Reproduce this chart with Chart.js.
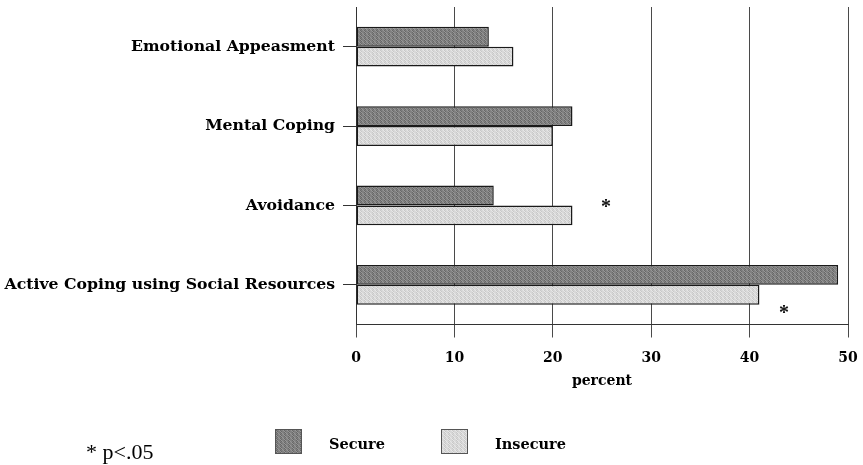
<!DOCTYPE html>
<html>
<head>
<meta charset="utf-8">
<script src="https://cdn.jsdelivr.net/npm/chart.js@4.4.1/dist/chart.umd.min.js"></script>
<style>
  html, body { margin: 0; padding: 0; background: #fff; }
  #wrap { width: 863px; height: 465px; position: relative; }
</style>
</head>
<body>
<div id="wrap"><canvas id="c" width="863" height="465"></canvas></div>
<script>
// Coping strategy shares by attachment group (percent)
const categories = ['Emotional Appeasment', 'Mental Coping', 'Avoidance', 'Active Coping using Social Resources'];
const secureValues = [13.5, 22, 14, 49];
const insecureValues = [16, 20, 22, 41];
const seriesNames = ['Secure', 'Insecure'];
const xTickValues = [0, 10, 20, 30, 40, 50];
const xTitle = 'percent';
const footnote = '* p<.05';
const significantCategories = ['Avoidance', 'Active Coping using Social Resources'];

const LABEL_FONT = 'DejaVu Serif';

// Small halftone-like tile used to fill the bars
function halftone(base, dark, light) {
  const t = document.createElement('canvas');
  t.width = 4; t.height = 4;
  const g = t.getContext('2d');
  g.fillStyle = base; g.fillRect(0, 0, 4, 4);
  g.fillStyle = dark;
  [[0,0],[2,0],[1,1],[3,1],[0,2],[2,2],[1,3],[3,3]].forEach(([x, y], i) => { if (i % 2 === 0) g.fillRect(x, y, 1, 1); });
  g.fillStyle = light;
  [[1,0],[3,2],[2,1],[0,3]].forEach(([x, y]) => g.fillRect(x, y, 1, 1));
  return g.createPattern(t, 'repeat');
}

const secureFill = halftone('#808080', '#686868', '#979797');
const insecureFill = halftone('#d8d8d8', '#c8c8c8', '#e7e7e7');

// Significance stars and the bottom legend row
const annotations = {
  id: 'annotations',
  afterDraw(chart) {
    const { ctx, scales: { x, y } } = chart;
    ctx.save();
    ctx.fillStyle = '#111';
    ctx.font = 'bold 20px "Liberation Serif"';
    ctx.textAlign = 'center';
    ctx.textBaseline = 'middle';
    // star beside the Avoidance pair
    const avoid = categories.indexOf(significantCategories[0]);
    ctx.fillText('*', x.getPixelForValue(25.4), y.getPixelForValue(avoid) + 2);
    // star under the Active Coping pair
    const active = categories.indexOf(significantCategories[1]);
    ctx.fillText('*', x.getPixelForValue(43.5), y.getPixelForValue(active) + 29);

    // footnote
    ctx.textAlign = 'left';
    ctx.textBaseline = 'alphabetic';
    ctx.font = '22px "Liberation Serif"';
    ctx.fillStyle = '#000';
    ctx.fillText(footnote, 86, 459);

    // legend
    const items = chart.data.datasets.map((d, i) => ({ fill: d.backgroundColor, label: seriesNames[i] }));
    const boxX = [275, 441];
    items.forEach((it, i) => {
      ctx.fillStyle = it.fill;
      ctx.fillRect(boxX[i], 429, 27, 25);
      ctx.strokeStyle = '#555';
      ctx.lineWidth = 1;
      ctx.strokeRect(boxX[i] + 0.5, 429.5, 26, 24);
      ctx.fillStyle = '#000';
      ctx.font = 'bold 14.5px "' + LABEL_FONT + '"';
      ctx.textBaseline = 'middle';
      ctx.fillText(it.label, boxX[i] + 54, 445);
    });
    ctx.restore();
  }
};

new Chart(document.getElementById('c'), {
  type: 'bar',
  data: {
    labels: categories,
    datasets: [
      { label: seriesNames[0], data: secureValues, backgroundColor: secureFill, borderColor: '#1a1a1a', borderWidth: 1.5, borderSkipped: false },
      { label: seriesNames[1], data: insecureValues, backgroundColor: insecureFill, borderColor: '#1a1a1a', borderWidth: 1.5, borderSkipped: false }
    ]
  },
  options: {
    indexAxis: 'y',
    responsive: false,
    animation: false,
    datasets: { bar: { categoryPercentage: 0.5, barPercentage: 1.0 } },
    layout: { padding: { top: 7, right: 15, bottom: 75, left: 0 } },
    plugins: { legend: { display: false }, tooltip: { enabled: false } },
    scales: {
      x: {
        type: 'linear',
        min: xTickValues[0],
        max: xTickValues[xTickValues.length - 1],
        afterBuildTicks(scale) { scale.ticks = xTickValues.map(v => ({ value: v })); },
        ticks: { color: '#000', font: { family: LABEL_FONT, weight: 'bold', size: 14 }, padding: 12 },
        grid: { color: '#4a4a4a', lineWidth: 1, tickLength: 13, tickColor: '#4a4a4a' },
        border: { display: true, color: '#333', width: 1 },
        title: { display: true, text: xTitle, color: '#000', font: { family: LABEL_FONT, weight: 'bold', size: 14 }, padding: { top: 7, bottom: 0 } },
        afterFit(scale) {
          scale.height = 65.5;
          scale.paddingLeft = 0; scale.paddingRight = 0;
        }
      },
      y: {
        ticks: { color: '#000', font: { family: LABEL_FONT, weight: 'bold', size: 15.7 }, padding: 8 },
        grid: { drawOnChartArea: false, offset: false, tickLength: 13, color: '#333' },
        border: { display: true, color: '#333', width: 1 },
        afterFit(scale) {
          scale.width = 356;
          scale.paddingTop = 0; scale.paddingBottom = 0;
        }
      }
    }
  },
  plugins: [annotations]
});
</script>
</body>
</html>
